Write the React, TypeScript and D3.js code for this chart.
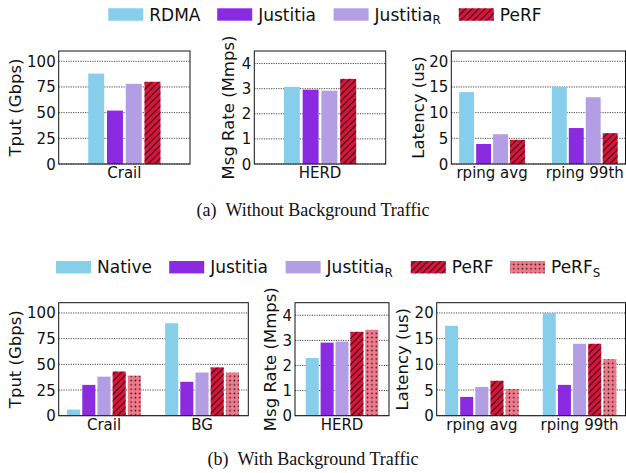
import React from "react";
import * as d3 from "d3";

// ---------- data ----------
const topSeries = ["RDMA", "Justitia", "JustitiaR", "PeRF"];
const bottomSeries = ["Native", "Justitia", "JustitiaR", "PeRF", "PeRFS"];

const crailTopCats = ["Crail"];
const crailTop = [[88, 52, 78, 80]];
const herdTopCats = ["HERD"];
const herdTop = [[3.07, 2.96, 2.92, 3.39]];
const rpingCats = ["rping avg", "rping 99th"];
const rpingTop = [
  [14.0, 3.9, 5.8, 4.7],
  [15.0, 7.0, 13.0, 6.0],
];

const crailBottomCats = ["Crail", "BG"];
const crailBottom = [
  [6, 30, 38, 43, 39],
  [90, 33, 42, 47, 42],
];
const herdBottom = [[2.3, 2.91, 2.95, 3.34, 3.42]];
const rpingBottom = [
  [17.5, 3.65, 5.6, 6.8, 5.2],
  [20, 6, 14, 14, 11],
];

const tputTicks = [0, 25, 50, 75, 100];
const msgTicks = [0, 1, 2, 3, 4];
const latTicks = [0, 5, 10, 15, 20];

// ---------- styles ----------
const seriesStyle: Record<string, { fill: string; pattern?: string }> = {
  RDMA: { fill: "#87ceeb" },
  Native: { fill: "#87ceeb" },
  Justitia: { fill: "#8a2be2" },
  JustitiaR: { fill: "#b39de4" },
  PeRF: { fill: "#dc143c", pattern: "url(#hatch)" },
  PeRFS: { fill: "#f07a8c", pattern: "url(#dots)" },
};

const FONT = "'DejaVu Sans', sans-serif";
const SERIF = "'Liberation Serif', serif";

type Box = { l: number; r: number; t: number; b: number };

function Label({ name, x, y, size }: { name: string; x: number; y: number; size: number }) {
  const sub = name === "JustitiaR" ? "R" : name === "PeRFS" ? "S" : null;
  const main = sub ? name.slice(0, -1) : name;
  return (
    <text x={x} y={y} fontSize={size} fontFamily={FONT} fill="#111">
      {main}
      {sub && (
        <tspan fontSize={size * 0.7} dy={size * 0.22}>
          {sub}
        </tspan>
      )}
    </text>
  );
}

function Panel(props: {
  box: Box;
  xDomain: [number, number];
  yDomain: [number, number];
  yTicks: number[];
  cats: string[];
  values: number[][];
  series: string[];
  step: number;
  width: number;
  ylabel: string;
  ylabelX: number;
  xlabelY: number;
}) {
  const { box, xDomain, yDomain, yTicks, cats, values, series, step, width, ylabel, ylabelX, xlabelY } = props;
  const x = d3.scaleLinear().domain(xDomain).range([box.l, box.r]);
  const y = d3.scaleLinear().domain(yDomain).range([box.b, box.t]);
  const n = series.length;
  return (
    <g>
      {yTicks.map((t) => (
        <line
          key={"g" + t}
          x1={box.l}
          x2={box.r}
          y1={y(t)}
          y2={y(t)}
          stroke="#333"
          strokeWidth={0.9}
          strokeDasharray="1.2,1.2"
        />
      ))}
      {cats.map((c, i) =>
        values[i].map((v, j) => {
          const cx = i + (j - (n - 1) / 2) * step;
          const x0 = x(cx - width / 2);
          const w = x(cx + width / 2) - x0;
          const st = seriesStyle[series[j]];
          return (
            <g key={c + j}>
              <rect x={x0} y={y(v)} width={w} height={y(0) - y(v)} fill={st.fill} />
              {st.pattern && <rect x={x0} y={y(v)} width={w} height={y(0) - y(v)} fill={st.pattern} />}
            </g>
          );
        })
      )}
      <rect x={box.l} y={box.t} width={box.r - box.l} height={box.b - box.t} fill="none" stroke="#111" strokeWidth={1} />
      {yTicks.map((t) => (
        <text
          key={"t" + t}
          x={box.l - 3}
          y={y(t) + 5.5}
          textAnchor="end"
          fontSize={15}
          fontFamily={FONT}
          fill="#111"
        >
          {t}
        </text>
      ))}
      {cats.map((c, i) => (
        <text key={"c" + c} x={x(i)} y={xlabelY} textAnchor="middle" fontSize={15} fontFamily={FONT} fill="#111">
          {c}
        </text>
      ))}
      <text
        transform={`translate(${ylabelX},${(box.t + box.b) / 2}) rotate(-90)`}
        textAnchor="middle"
        fontSize={16.5}
        fontFamily={FONT}
        fill="#111"
      >
        {ylabel}
      </text>
    </g>
  );
}

function Legend({ series, xs, y }: { series: string[]; xs: number[]; y: number }) {
  return (
    <g>
      {series.map((s, i) => {
        const st = seriesStyle[s];
        return (
          <g key={s}>
            <rect x={xs[i]} y={y} width={35} height={12.4} fill={st.fill} />
            {st.pattern && <rect x={xs[i]} y={y} width={35} height={12.4} fill={st.pattern} />}
            <Label name={s} x={xs[i] + 41} y={y + 12.4} size={17} />
          </g>
        );
      })}
    </g>
  );
}

function Caption({ tag, text, y }: { tag: string; text: string; y: number }) {
  return (
    <text x={313} y={y} textAnchor="middle" fontSize={18} fontFamily={SERIF} fill="#111">
      {tag}
      <tspan dx={9}>{text}</tspan>
    </text>
  );
}

export default function App() {
  const topBox1: Box = { l: 58.7, r: 190, t: 51, b: 164 };
  const topBox2: Box = { l: 254.3, r: 385.7, t: 51, b: 164 };
  const topBox3: Box = { l: 451.3, r: 625.5, t: 51, b: 164 };
  const botBox1: Box = { l: 58.7, r: 248.3, t: 302.7, b: 415.7 };
  const botBox2: Box = { l: 295, r: 389, t: 302.7, b: 415.7 };
  const botBox3: Box = { l: 436.7, r: 625.5, t: 302.7, b: 415.7 };
  return (
    <svg width={626} height={473} style={{ position: "absolute", left: 0, top: 0, background: "#fff" }}>
      <defs>
        <pattern id="hatch" patternUnits="userSpaceOnUse" width={6.5} height={6.5}>
          <path d="M-1,1 l2,-2 M0,6.5 l6.5,-6.5 M5.5,7.5 l2,-2" stroke="#111" strokeWidth={1} />
        </pattern>
        <pattern id="dots" patternUnits="userSpaceOnUse" width={4.3} height={4.3}>
          <circle cx={2.15} cy={2.15} r={0.8} fill="#111" />
        </pattern>
      </defs>
      <rect width={626} height={473} fill="#fff" />

      <Legend series={topSeries} xs={[108.3, 217.2, 333.6, 458.8]} y={8.3} />
      <Panel box={topBox1} xDomain={[-0.7, 0.7]} yDomain={[0, 110]} yTicks={tputTicks} cats={crailTopCats}
        values={crailTop} series={topSeries} step={0.2} width={0.17} ylabel="Tput (Gbps)" ylabelX={21} xlabelY={177.5} />
      <Panel box={topBox2} xDomain={[-0.7, 0.7]} yDomain={[0, 4.5]} yTicks={msgTicks} cats={herdTopCats}
        values={herdTop} series={topSeries} step={0.2} width={0.17} ylabel="Msg Rate (Mmps)" ylabelX={233.5} xlabelY={177.5} />
      <Panel box={topBox3} xDomain={[-0.44, 1.44]} yDomain={[0, 22]} yTicks={latTicks} cats={rpingCats}
        values={rpingTop} series={topSeries} step={0.183} width={0.161} ylabel="Latency (us)" ylabelX={423.5} xlabelY={177.5} />
      <Caption tag="(a)" text="Without Background Traffic" y={216} />

      <Legend series={bottomSeries} xs={[56, 169.2, 285.6, 410.8, 510]} y={261} />
      <Panel box={botBox1} xDomain={[-0.462, 1.472]} yDomain={[0, 110]} yTicks={tputTicks} cats={crailBottomCats}
        values={crailBottom} series={bottomSeries} step={0.155} width={0.133} ylabel="Tput (Gbps)" ylabelX={21} xlabelY={430} />
      <Panel box={botBox2} xDomain={[-0.48, 0.48]} yDomain={[0, 4.5]} yTicks={msgTicks} cats={herdTopCats}
        values={herdBottom} series={bottomSeries} step={0.152} width={0.133} ylabel="Msg Rate (Mmps)" ylabelX={276} xlabelY={430} />
      <Panel box={botBox3} xDomain={[-0.462, 1.47]} yDomain={[0, 22]} yTicks={latTicks} cats={rpingCats}
        values={rpingBottom} series={bottomSeries} step={0.155} width={0.133} ylabel="Latency (us)" ylabelX={408} xlabelY={430} />
      <Caption tag="(b)" text="With Background Traffic" y={465} />
    </svg>
  );
}
